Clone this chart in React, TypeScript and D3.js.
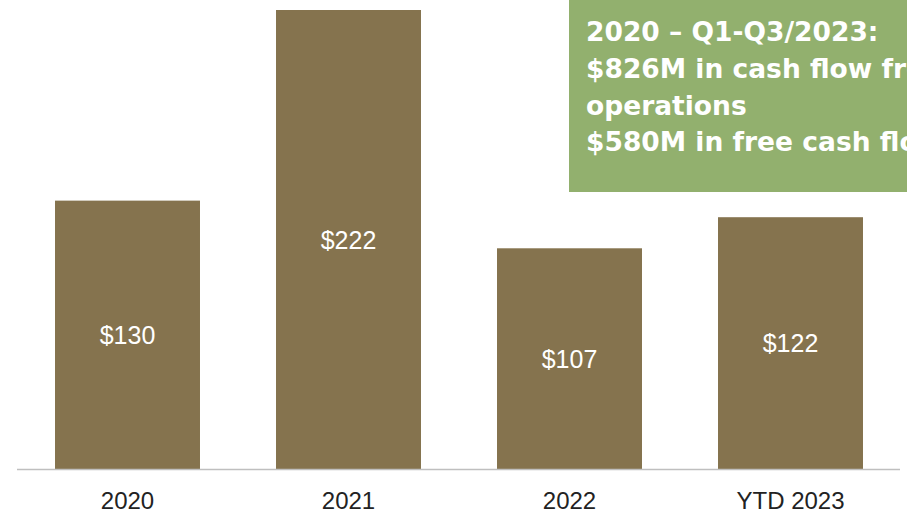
import React from "react";
import * as d3 from "d3";

const categories = ["2020", "2021", "2022", "YTD 2023"];
const values = [130, 222, 107, 122];
const valueLabels = ["$130", "$222", "$107", "$122"];
const noteLines = [
  "2020 – Q1-Q3/2023:",
  "$826M in cash flow from",
  "operations",
  "$580M in free cash flow",
];

const W = 907;
const H = 518;

export default function App() {
  const x = d3
    .scaleBand<string>()
    .domain(categories)
    .range([17, 901])
    .paddingInner(0.344)
    .paddingOuter(0.172);
  const y = d3.scaleLinear().domain([0, 222]).range([470, 10]);

  return (
    <svg
      width={W}
      height={H}
      style={{ position: "absolute", left: 0, top: 0, background: "#fff" }}
    >
      {categories.map((c, i) => (
        <g key={c}>
          <rect
            x={x(c)}
            y={y(values[i])}
            width={x.bandwidth()}
            height={y(0) - y(values[i])}
            fill="#85734E"
          />
          <text
            x={(x(c) as number) + x.bandwidth() / 2}
            y={(y(values[i]) + y(0)) / 2}
            dy="0.35em"
            textAnchor="middle"
            fill="#fff"
            fontFamily="Liberation Sans, Arial, sans-serif"
            fontSize={25}
          >
            {valueLabels[i]}
          </text>
          <text
            x={(x(c) as number) + x.bandwidth() / 2}
            y={501}
            dy="0.35em"
            textAnchor="middle"
            fill="#222"
            fontFamily="Liberation Sans, Arial, sans-serif"
            fontSize={24}
          >
            {c}
          </text>
        </g>
      ))}
      <line x1={17} x2={900} y1={469.5} y2={469.5} stroke="#BFBFBF" strokeWidth={1.5} />
      <rect x={569} y={0} width={W - 569} height={192} fill="#92B06E" />
      {noteLines.map((t, i) => (
        <text
          key={i}
          x={586}
          y={32 + i * 36.7}
          dy="0.35em"
          fill="#fff"
          fontFamily="DejaVu Sans, sans-serif"
          fontWeight="bold"
          fontSize={26.5}
        >
          {t}
        </text>
      ))}
    </svg>
  );
}
